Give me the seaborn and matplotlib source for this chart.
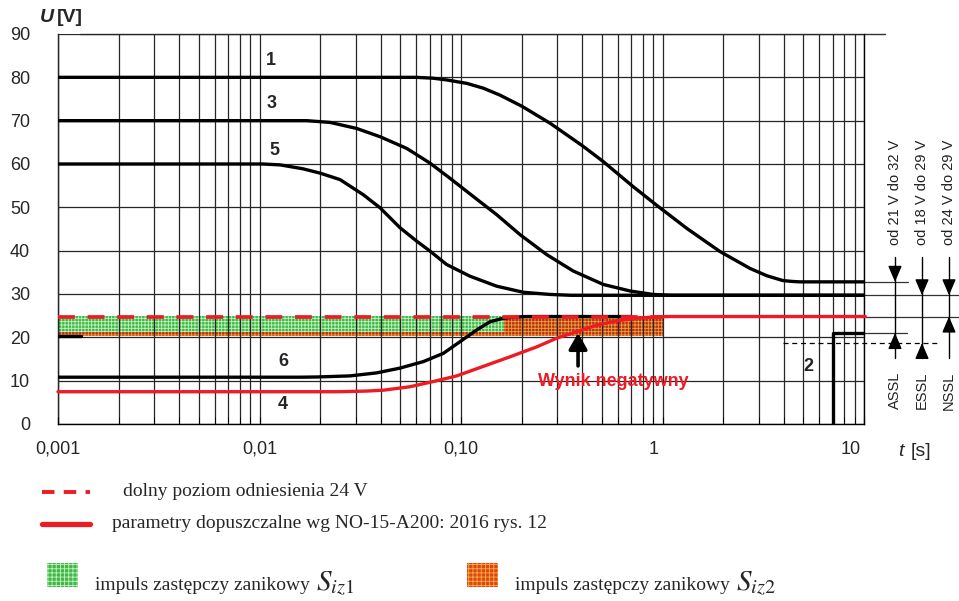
import matplotlib
matplotlib.use("Agg")
import matplotlib.pyplot as plt
import matplotlib.transforms as mtransforms
from matplotlib.lines import Line2D
from matplotlib.patches import Rectangle
from matplotlib.ticker import LogLocator, FixedLocator, FixedFormatter, NullFormatter
import seaborn as sns

sns.set_style("white")
plt.rcParams["font.family"] = ["Liberation Sans", "DejaVu Sans"]
plt.rcParams["mathtext.fontset"] = "stix"
plt.rcParams["hatch.linewidth"] = 0.6

# curve data (time in s, voltage in V)
t1 = [0.001, 0.0498, 0.0600, 0.0726, 0.0850, 0.107, 0.129, 0.156, 0.201, 0.277, 0.398, 0.507, 0.714,
      0.940, 1.324, 1.929, 2.718, 3.30, 3.96, 4.40, 4.81, 10]
u1 = [80, 80, 80, 79.8, 79.4, 78.6, 77.5, 75.9, 73.3, 69.4, 64.3, 60.6, 54.8,
      50.4, 45.1, 39.8, 35.9, 34.2, 33.1, 32.9, 32.8, 32.8]

t3 = [0.001, 0.0125, 0.01715, 0.02239, 0.03037, 0.03963, 0.05377, 0.07018, 0.0882, 0.1151, 0.1504,
      0.1963, 0.2661, 0.3607, 0.5086, 0.6899, 0.897, 1.1, 10]
u3 = [70, 70, 70, 69.6, 68.2, 66.3, 63.6, 60.2, 56.7, 52.5, 48.3,
      43.7, 39.1, 35.3, 32.2, 30.7, 29.9, 29.7, 29.7]

t5 = [0.001, 0.0104, 0.01264, 0.0164, 0.01997, 0.0251, 0.03276, 0.03963, 0.04979, 0.06026, 0.07018,
      0.0849, 0.1109, 0.1504, 0.2038, 0.2766, 0.35, 10]
u5 = [60, 60, 59.8, 58.9, 57.9, 56.4, 52.9, 49.9, 45.3, 42.2, 39.9,
      36.8, 34.1, 31.8, 30.4, 29.9, 29.7, 29.7]

t6 = [0.001, 0.0160, 0.01923, 0.02813, 0.03818, 0.04979, 0.06501, 0.0817, 0.0989, 0.1197, 0.1393,
      0.1622, 0.1819, 0.21, 0.7]
u6 = [10.8, 10.8, 10.85, 11.1, 11.8, 12.9, 14.4, 16.3, 19.0, 21.7, 23.6,
      24.4, 24.65, 24.8, 24.8]

t4 = [0.001, 0.0250, 0.0340, 0.04113, 0.05585, 0.0729, 0.0952, 0.129, 0.175, 0.2376, 0.2985, 0.3751,
      0.4713, 0.5925, 0.7443, 0.9354, 1.1, 10.15]
u4 = [7.45, 7.45, 7.6, 7.8, 8.6, 9.8, 11.1, 13.3, 15.5, 17.8, 19.8, 21.3,
      22.8, 23.8, 24.4, 24.75, 24.8, 24.8]

t2a = [0.001, 0.0013]
u2a = [20.3, 20.3]
t2 = [7, 7, 10]
u2 = [0, 21, 21]

t_ref = [0.001, 1.0]
u_ref = [24.8, 24.8]

# impulse areas: (t start, t end, U low, U high)
siz1 = (0.001, 0.163, 21.2, 24.9)
siz2 = (0.001, 1.0, 20.3, 24.9)

curve_labels = ["1", "3", "5", "6", "4", "2"]
label_t = [0.0114, 0.0115, 0.0119, 0.0131, 0.0131, 5.3]
label_u = [83.8, 73.9, 63.2, 14.5, 4.4, 13.2]

xtick_vals = [0.001, 0.01, 0.1, 1, 10]
xtick_text = ["0,001", "0,01", "0,10", "1", "10"]
ytick_vals = list(range(0, 100, 10))

# right side ranges: name, text, upper level, lower level
ranges = [("ASSL", "od 21 V do 32 V", 32.8, 21.0),
          ("ESSL", "od 18 V do 29 V", 29.7, 18.7),
          ("NSSL", "od 24 V do 29 V", 29.7, 24.8)]

RED = "#ed1c24"
W, H = 959, 601

fig = plt.figure(figsize=(9.59, 6.01), dpi=100)
ax = fig.add_axes([58 / W, 1 - 424 / H, 806 / W, 390 / H])
ax.set_xscale("log")
ax.set_xlim(0.001, 10)
ax.set_ylim(0, 90)

# hatched impulse areas
ax.fill_between([siz2[0], siz2[1]], siz2[2], siz2[3], facecolor="#b9301a",
                edgecolor="#eca435", hatch="+++++", linewidth=0, zorder=1)
ax.fill_between([siz1[0], siz1[1]], siz1[2], siz1[3], facecolor="#3dba45",
                edgecolor="#c9f0c4", hatch="+++++", linewidth=0, zorder=1.1)

kw = dict(ax=ax, estimator=None, sort=False, legend=False)
for tt, uu in [(t1, u1), (t3, u3), (t5, u5), (t6, u6), (t2, u2), (t2a, u2a)]:
    sns.lineplot(x=tt, y=uu, color="black", linewidth=2.4, zorder=4, **kw)
sns.lineplot(x=t4, y=u4, color=RED, linewidth=2.4, zorder=5, clip_on=False, **kw)
sns.lineplot(x=t_ref, y=u_ref, color=RED, linewidth=2.7, zorder=6, **kw)
ax.lines[-1].set_linestyle((0, (4.5, 3.4)))
for ln in ax.lines:
    ln.set_solid_joinstyle("round")

for lab, tx, ux in zip(curve_labels, label_t, label_u):
    ax.text(tx, ux, lab, fontsize=13, fontweight="bold", ha="center", va="center", zorder=7)

# grid
ax.xaxis.set_major_locator(FixedLocator(xtick_vals))
ax.xaxis.set_major_formatter(FixedFormatter(xtick_text))
ax.xaxis.set_minor_locator(LogLocator(base=10, subs=range(2, 10)))
ax.xaxis.set_minor_formatter(NullFormatter())
ax.set_yticks(ytick_vals)
ax.grid(True, which="both", axis="x", color="#262626", linewidth=0.9)
ax.grid(True, which="major", axis="y", color="#262626", linewidth=0.9)
ax.set_axisbelow(False)
for gl in ax.get_xgridlines() + ax.get_ygridlines():
    gl.set_zorder(2)
ax.tick_params(axis="x", which="both", direction="in", length=5, color="black", bottom=True)
ax.tick_params(axis="x", which="major", labelsize=13, pad=12)
ax.tick_params(axis="y", length=0, labelsize=13, pad=20)
for spine in ["left", "bottom", "right"]:
    ax.spines[spine].set_color("black")
    ax.spines[spine].set_linewidth(1)
ax.spines["top"].set_visible(False)

# shift the last two x labels a little to the left as in the original
for lbl, dx in zip(ax.get_xticklabels(), [0, 0, 0, -9, -13]):
    lbl.set_transform(lbl.get_transform() + mtransforms.ScaledTranslation(dx / 100, 0, fig.dpi_scale_trans))

bt = mtransforms.blended_transform_factory(fig.transFigure, ax.transData)

# top line at 90 V
ax.plot([80 / W, 885 / W], [90, 90], transform=bt, color="#333333", lw=1, clip_on=False)

# level lines continued to the right
for lev, x_end in [(32.8, 908), (29.7, 959), (24.8, 959), (21.0, 907)]:
    ax.plot([864 / W, x_end / W], [lev, lev], transform=bt, color="#333333", lw=0.9, clip_on=False)
ax.plot([783 / W, 940 / W], [18.7, 18.7], transform=bt, color="black", lw=0.9,
        linestyle=(0, (4, 3)), clip_on=False, zorder=3)

# ASSL / ESSL / NSSL arrows
for (name, txt, hi, lo), xp in zip(ranges, [895, 922, 949]):
    xf = xp / W
    ax.plot([xf, xf], [38.5, 15.2], transform=bt, color="black", lw=1, clip_on=False)
    for tip, tail in [(hi, hi + 3), (lo, lo - 3)]:
        ax.annotate("", xy=(xf, tip), xytext=(xf, tail), xycoords=("figure fraction", "data"),
                    textcoords=("figure fraction", "data"), annotation_clip=False,
                    arrowprops=dict(arrowstyle="-|>,head_length=0.7,head_width=0.3",
                                    mutation_scale=14, color="black", lw=1,
                                    shrinkA=0, shrinkB=0))
    fig.text(xf, 1 - 245 / H, txt, rotation=90, ha="center", va="bottom", fontsize=10.5, color="#222222")
    fig.text(xf, 1 - 372 / H, name, rotation=90, ha="center", va="top", fontsize=10.5, color="#222222")

# negative result arrow and text
ax.annotate("", xy=(0.381, 21.0), xytext=(0.381, 13.4),
            arrowprops=dict(arrowstyle="-|>,head_length=0.7,head_width=0.4", mutation_scale=14,
                            color="black", lw=2.6, shrinkA=0, shrinkB=0), zorder=8)
ax.text(0.57, 9.9, "Wynik negatywny", color=RED, fontsize=13, fontweight="bold",
        ha="center", va="center", zorder=8)

# axis titles
fig.text(40 / W, 1 - 17 / H, "U", fontsize=14, fontweight="bold", fontstyle="italic", va="center")
fig.text(57 / W, 1 - 17 / H, "[V]", fontsize=14, fontweight="bold", va="center")
fig.text(898 / W, 1 - 451 / H, "t", fontsize=14, fontstyle="italic", va="center")
fig.text(911 / W, 1 - 451 / H, "[s]", fontsize=14, va="center")

# legend drawn below the plot
serif = ["Liberation Serif", "DejaVu Serif"]
fig.add_artist(Line2D([42 / W, 90 / W], [1 - 492 / H] * 2, color=RED, lw=2.8,
                      linestyle=(0, (3.2, 2.4)), transform=fig.transFigure))
fig.text(123 / W, 1 - 492 / H, "dolny poziom odniesienia 24 V", family=serif, fontsize=14, va="center")
fig.add_artist(Line2D([42 / W, 90 / W], [1 - 524 / H] * 2, color=RED, lw=3.8, transform=fig.transFigure))
fig.text(112 / W, 1 - 523 / H, "parametry dopuszczalne wg NO-15-A200: 2016 rys. 12", family=serif,
         fontsize=14, va="center")

fig.canvas.draw()
renderer = fig.canvas.get_renderer()
for x0, face, hcol, sub in [(47, "#3dba45", "#c9f0c4", "iz1"), (467, "#e0441c", "#f7b23a", "iz2")]:
    fig.add_artist(Rectangle((x0 / W, 1 - 587 / H), 31 / W, 24 / H, transform=fig.transFigure,
                             facecolor=face, edgecolor=hcol, hatch="++++", linewidth=0))
    t = fig.text((x0 + 48) / W, 1 - 590 / H, "impuls zastępczy zanikowy", family=serif,
                 fontsize=14, va="baseline")
    bb = t.get_window_extent(renderer)
    fig.text((bb.x1 + 6) / W, 1 - 590 / H, r"$S_{" + sub + "}$", fontsize=21, va="baseline")

fig.savefig("out.png", dpi=100)
